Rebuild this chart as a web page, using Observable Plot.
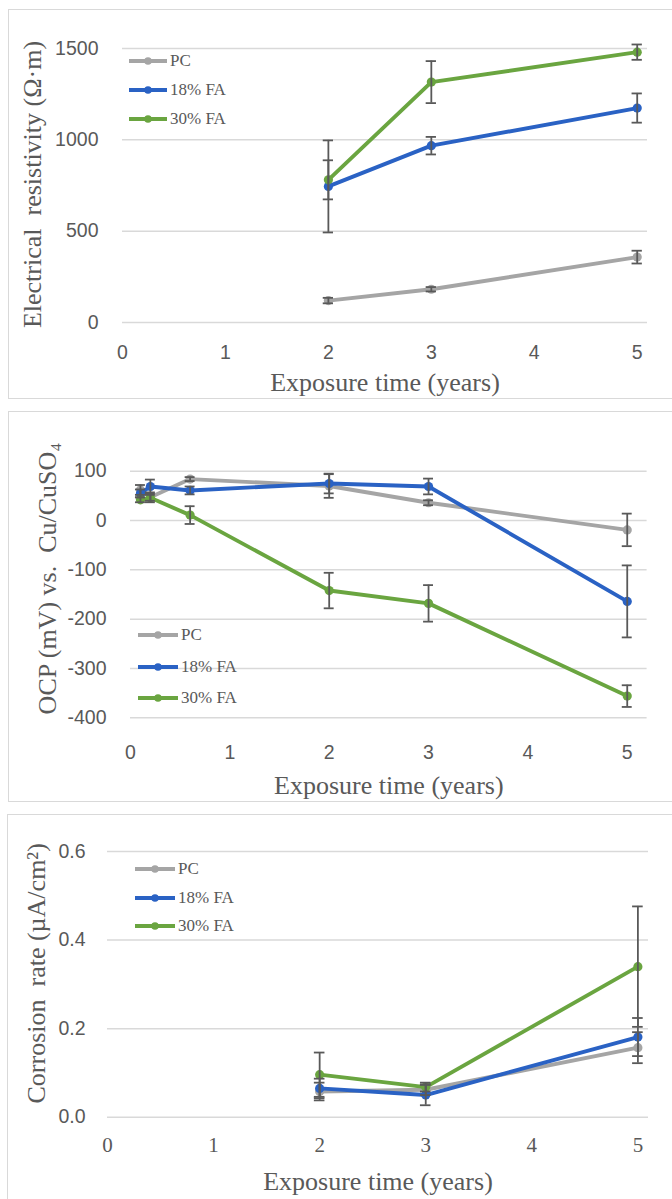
<!DOCTYPE html>
<html>
<head>
<meta charset="utf-8">
<script src="https://cdn.jsdelivr.net/npm/d3@7"></script>
<script src="https://cdn.jsdelivr.net/npm/@observablehq/plot@0.6"></script>
<style>
  html, body { margin: 0; padding: 0; background: #fff; width: 672px; height: 1199px; overflow: hidden; position: relative; }
  .frame { position: absolute; border: 1.5px solid #d9d9d9; border-right: none; box-sizing: border-box; }
  .panel { position: absolute; left: 0; }
  .legend { position: absolute; font-family: "Liberation Serif", "Times New Roman", serif; font-size: 17px; color: #595959; }
  .legend .row { position: absolute; left: 0; white-space: nowrap; display: flex; align-items: center; height: 20px; transform: translateY(-10px); }
  .legend svg { display: block; }
</style>
</head>
<body>
<div class="frame" style="left:8px; top:9px; width:700px; height:390px;"></div>
<div class="frame" style="left:8px; top:411px; width:700px; height:391px;"></div>
<div class="frame" style="left:7px; top:814px; width:700px; height:400px;"></div>
<div id="p1" class="panel" style="top:0px;"></div>
<div id="p2" class="panel" style="top:400px;"></div>
<div id="p3" class="panel" style="top:800px;"></div>
<script>
// ---- data ----
const seriesNames = ["PC", "18% FA", "30% FA"];
const seriesColors = ["#a5a5a5", "#2a62c4", "#6aa540"];

// Panel 1: electrical resistivity (Ω·m)
const years1 = [2, 3, 5];
const resPC = [120, 182, 358];
const resPCerr = [15, 12, 35];
const resFA18 = [745, 968, 1174];
const resFA18err = [252, 48, 80];
const resFA30 = [781, 1316, 1480];
const resFA30err = [107, 115, 42];
const xTicks1 = [0, 1, 2, 3, 4, 5];
const yTicks1 = [0, 500, 1000, 1500];

// Panel 2: OCP (mV) vs. Cu/CuSO4
const years2 = [0.1, 0.2, 0.6, 2, 3, 5];
const ocpPC = [62, 47, 84, 70, 36, -19];
const ocpPCerr = [10, 10, 4, 24, 5, 33];
const ocpFA18 = [55, 69, 61, 75, 69, -164];
const ocpFA18err = [8, 14, 8, 20, 16, 73];
const ocpFA30 = [42, 46, 11, -142, -168, -356];
const ocpFA30err = [5, 6, 18, 36, 37, 22];
const xTicks2 = [0, 1, 2, 3, 4, 5];
const yTicks2 = [-400, -300, -200, -100, 0, 100];
const yLabels2 = ["-400", "-300", "-200", "-100", "0", "100"];

// Panel 3: corrosion rate (µA/cm²)
const years3 = [2, 3, 5];
const crPC = [0.058, 0.062, 0.157];
const crPCerr = [0.02, 0.012, 0.035];
const crFA18 = [0.065, 0.05, 0.181];
const crFA18err = [0.022, 0.023, 0.043];
const crFA30 = [0.096, 0.068, 0.34];
const crFA30err = [0.05, 0.01, 0.136];
const xTicks3 = [0, 1, 2, 3, 4, 5];
const yTicks3 = [0, 0.2, 0.4, 0.6];
const yLabels3 = ["0.0", "0.2", "0.4", "0.6"];

const SERIF = "Liberation Serif, Times New Roman, serif";
const SANS = "Liberation Sans, Arial, sans-serif";
const TXT = "#595959";

function rowsOf(xs, ys, es) { return xs.map((x, i) => ({x, y: ys[i], e: es[i]})); }

function panel(cfg) {
  const marks = [
    Plot.gridY(cfg.yTicks, {stroke: "#d9d9d9", strokeOpacity: 1, strokeWidth: 1.5})
  ];
  const cap = cfg.cap;
  cfg.series.forEach((rows, k) => {
    const c = seriesColors[k];
    marks.push(Plot.line(rows, {x: "x", y: "y", stroke: c, strokeWidth: 3.9}));
    marks.push(Plot.dot(rows, {x: "x", y: "y", r: 4.6, fill: c, stroke: "none"}));
  });
  cfg.series.forEach((rows) => {
    marks.push(Plot.ruleX(rows, {x: "x", y1: d => d.y - d.e, y2: d => d.y + d.e, stroke: "#595959", strokeWidth: 1.8}));
    marks.push(Plot.ruleY(rows, {y: d => d.y + d.e, x1: d => d.x - cap, x2: d => d.x + cap, stroke: "#595959", strokeWidth: 1.8}));
    marks.push(Plot.ruleY(rows, {y: d => d.y - d.e, x1: d => d.x - cap, x2: d => d.x + cap, stroke: "#595959", strokeWidth: 1.8}));
  });
  // tick labels
  marks.push(Plot.text(cfg.xTicks, {x: d => d, frameAnchor: "bottom", dy: cfg.xTickDy, lineAnchor: "middle", textAnchor: "middle",
    fill: TXT, fontSize: cfg.xTickSize, fontFamily: cfg.xTickFont, text: d => String(d)}));
  marks.push(Plot.text(cfg.yTicks, {y: d => d, frameAnchor: "left", dx: -cfg.yTickDx, textAnchor: "end", lineAnchor: "middle",
    fill: TXT, fontSize: 19.5, fontFamily: SANS, text: (d, i) => cfg.yLabels[i]}));
  // axis titles
  marks.push(Plot.text([cfg.xTitle], {frameAnchor: "bottom", dy: cfg.xTitleDy, lineAnchor: "middle", textAnchor: "middle",
    fill: TXT, fontSize: 26, fontFamily: SERIF}));
  marks.push(Plot.text([cfg.yTitle], {frameAnchor: "left", dx: -cfg.yTitleDx, dy: cfg.yTitleDy, rotate: -90,
    lineAnchor: "middle", textAnchor: "middle",
    fill: TXT, fontSize: 26, fontFamily: SERIF}));
  return Plot.plot({
    width: 672, height: cfg.height,
    marginLeft: cfg.ml, marginRight: cfg.mr, marginTop: cfg.mt, marginBottom: cfg.mb,
    x: {domain: cfg.xDomain, axis: null},
    y: {domain: cfg.yDomain, axis: null},
    style: {background: "transparent", overflow: "visible", fontFamily: SANS, fontSize: "19.5px", color: TXT},
    marks
  });
}

function legend(left, tops, lineW) {
  const div = document.createElement("div");
  div.className = "legend";
  div.style.left = left + "px";
  div.style.top = "0px";
  seriesNames.forEach((name, k) => {
    const row = document.createElement("div");
    row.className = "row";
    row.style.top = tops[k] + "px";
    const c = seriesColors[k];
    row.innerHTML = `<svg width="${lineW}" height="10"><line x1="0" x2="${lineW}" y1="5" y2="5" stroke="${c}" stroke-width="4.2"/><circle cx="${lineW/2}" cy="5" r="3.8" fill="${c}"/></svg><span style="margin-left:3px">${name}</span>`;
    div.appendChild(row);
  });
  document.body.appendChild(div);
}

document.getElementById("p1").appendChild(panel({
  height: 400, ml: 122, mr: 25, mt: 48, mb: 78,
  xDomain: [0, 5.1], yDomain: [0, 1500], cap: 0.05,
  xTicks: xTicks1, yTicks: yTicks1, yLabels: yTicks1.map(String),
  xTickDy: 30, xTickSize: 19.5, xTickFont: SANS, yTickDx: 24,
  xTitle: "Exposure time (years)", xTitleDy: 60,
  yTitle: "Electrical  resistivity (Ω·m)", yTitleDx: 90, yTitleDy: -1,
  series: [rowsOf(years1, resPC, resPCerr), rowsOf(years1, resFA18, resFA18err), rowsOf(years1, resFA30, resFA30err)]
}));
legend(129, [61, 90, 119], 38);

document.getElementById("p2").appendChild(panel({
  height: 400, ml: 130, mr: 25.4, mt: 70.7, mb: 82.7,
  xDomain: [0, 5.2], yDomain: [-400, 100], cap: 0.05,
  xTicks: xTicks2, yTicks: yTicks2, yLabels: yLabels2,
  xTickDy: 35, xTickSize: 19.5, xTickFont: SANS, yTickDx: 24,
  xTitle: "Exposure time (years)", xTitleDy: 68,
  yTitle: "OCP (mV) vs.  Cu/CuSO₄", yTitleDx: 83, yTitleDy: -16,
  series: [rowsOf(years2, ocpPC, ocpPCerr), rowsOf(years2, ocpFA18, ocpFA18err), rowsOf(years2, ocpFA30, ocpFA30err)]
}));
legend(138, [635, 667, 698], 40);

document.getElementById("p3").appendChild(panel({
  height: 399, ml: 107, mr: 24, mt: 51, mb: 82.3,
  xDomain: [0, 5.1], yDomain: [0, 0.6], cap: 0.05,
  xTicks: xTicks3, yTicks: yTicks3, yLabels: yLabels3,
  xTickDy: 28, xTickSize: 21, xTickFont: SERIF, yTickDx: 22,
  xTitle: "Exposure time (years)", xTitleDy: 64,
  yTitle: "Corrosion  rate (µA/cm²)", yTitleDx: 71, yTitleDy: -11,
  series: [rowsOf(years3, crPC, crPCerr), rowsOf(years3, crFA18, crFA18err), rowsOf(years3, crFA30, crFA30err)]
}));
legend(135, [869, 898, 926], 40);
</script>
</body>
</html>
